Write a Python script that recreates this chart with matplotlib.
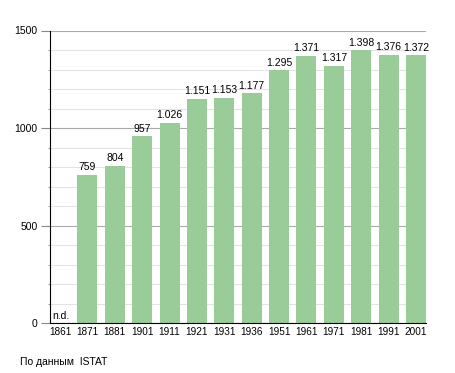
import matplotlib
matplotlib.use("Agg")
import matplotlib.pyplot as plt
import numpy as np

plt.rcParams["font.family"] = ["Liberation Sans", "DejaVu Sans"]

years = ["1861", "1871", "1881", "1901", "1911", "1921", "1931",
         "1936", "1951", "1961", "1971", "1981", "1991", "2001"]
population = [None, 759, 804, 957, 1026, 1151, 1153,
              1177, 1295, 1371, 1317, 1398, 1376, 1372]
value_labels = ["n.d.", "759", "804", "957", "1.026", "1.151", "1.153",
                "1.177", "1.295", "1.371", "1.317", "1.398", "1.376", "1.372"]
y_ticks = [0, 500, 1000, 1500]
source_note = "По данным  ISTAT"

BAR_COLOR = "#99cc99"
FS = 7.5

fig = plt.figure(figsize=(4.55, 3.73), dpi=100)
ax = fig.add_axes([50 / 455, 1 - 323 / 373, 376 / 455, (323 - 30.5) / 373])

x = np.arange(len(years))
width = 0.73
heights = [v if v is not None else 0 for v in population]
ax.bar(x, heights, width, color=BAR_COLOR, zorder=2)

for xi, v, lab in zip(x, population, value_labels):
    if v is None:
        ax.text(xi - width / 2 + 0.08, 12, lab, ha="left", va="bottom", fontsize=FS)
    else:
        ax.text(xi, v + 14, lab, ha="center", va="bottom", fontsize=FS)

ax.set_xlim(-width / 2, len(years) - 1 + width / 2)
ax.set_ylim(0, 1500)
ax.set_yticks(y_ticks)
ax.set_yticks(np.arange(0, 1501, 100), minor=True)
ax.set_xticks(x)
ax.set_xticklabels(years)
ax.tick_params(axis="y", labelsize=FS)
ax.tick_params(axis="x", labelsize=7.2, length=0, pad=3)
ax.tick_params(axis="y", which="major", length=6.5, width=0.8, pad=2.5, color="#888888")
ax.tick_params(axis="y", which="minor", length=1.5, width=0.6, color="#888888")

ax.grid(axis="y", which="major", color="#aaaaaa", linewidth=0.8, zorder=0)
ax.grid(axis="y", which="minor", color="#e3e3e3", linewidth=0.8, zorder=0)
ax.set_axisbelow(True)
for side in ("top", "right"):
    ax.spines[side].set_visible(False)
ax.spines["left"].set_linewidth(0.8)
ax.spines["bottom"].set_linewidth(0.8)

fig.text(20 / 455, 1 - 362 / 373, source_note, fontsize=FS, va="center", ha="left")

fig.savefig("out.png", dpi=100, facecolor="white")
